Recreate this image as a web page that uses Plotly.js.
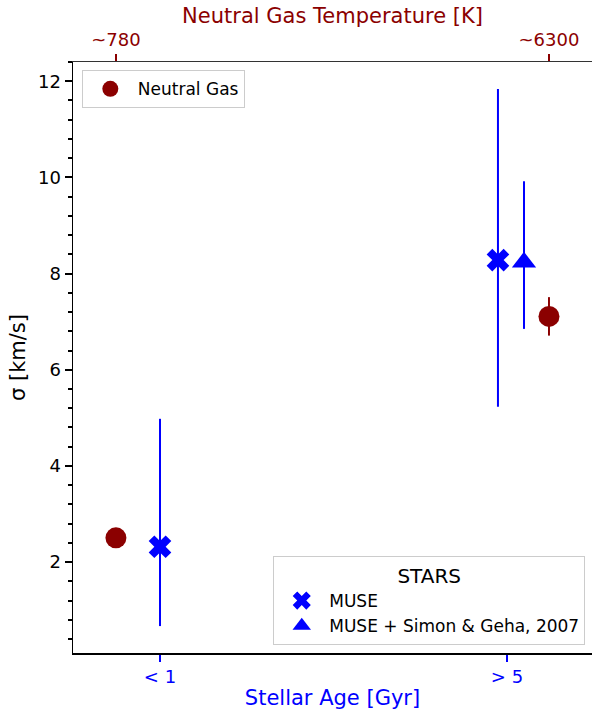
<!DOCTYPE html>
<html><head><meta charset="utf-8">
<script src="https://cdn.plot.ly/plotly-3.0.1.min.js"></script>
<style>body{margin:0;background:#fff}#chart{width:592px;height:714px}</style>
</head><body><div id="chart"></div>
<script>
// Bottom axis categories (numeric positions) and labels
const ageTickVals = [0, 1];
const ageTickText = ['< 1', '> 5'];
// Stars: MUSE
const museX = [0, 0.974];
const museY = [2.32, 8.28];
const museErrPlus = [2.66, 3.56];
const museErrMinus = [1.65, 3.05];
// Stars: MUSE + Simon & Geha, 2007
const simonX = [1.049];
const simonY = [8.235];
const simonErrPlus = [1.685];
const simonErrMinus = [1.385];
// Neutral gas
const gasX = [-0.127, 1.121];
const gasY = [2.505, 7.11];
const gasErr = [0, 0.4];
const tempTickText = ['~780', '~6300'];

const FONT = 'DejaVu Sans, sans-serif';
const BLUE = '#0000ff';
const RED = '#8b0000';

const traces = [
  {
    x: museX, y: museY, type: 'scatter', mode: 'markers', name: 'MUSE',
    legend: 'legend2',
    marker: {symbol: 'x', size: 20, color: BLUE, line: {width: 0}},
    error_y: {type: 'data', symmetric: false, array: museErrPlus, arrayminus: museErrMinus,
      color: BLUE, thickness: 2, width: 0}
  },
  {
    x: simonX, y: simonY, type: 'scatter', mode: 'markers', name: 'MUSE + Simon & Geha, 2007',
    legend: 'legend2',
    marker: {symbol: 'triangle-up', size: 21, color: BLUE, line: {width: 0}},
    error_y: {type: 'data', symmetric: false, array: simonErrPlus, arrayminus: simonErrMinus,
      color: BLUE, thickness: 2, width: 0}
  },
  {
    x: gasX, y: gasY, type: 'scatter', mode: 'markers', name: 'Neutral Gas',
    xaxis: 'x2', legend: 'legend',
    marker: {symbol: 'circle', size: 21, color: RED, line: {width: 0}},
    error_y: {type: 'data', array: gasErr, color: RED, thickness: 2, width: 0}
  }
];

const xr = [-0.2507, 1.245];
const layout = {
  width: 592, height: 714,
  margin: {l: 73, r: 0, t: 62, b: 61, pad: 0},
  paper_bgcolor: '#fff', plot_bgcolor: '#fff',
  font: {family: FONT, size: 18, color: '#000'},
  showlegend: true,
  xaxis: {
    range: xr, tickmode: 'array', tickvals: ageTickVals, ticktext: ageTickText,
    showgrid: false, zeroline: false, showline: true, linecolor: '#000', linewidth: 1.5,
    ticks: 'outside', ticklen: 7, tickwidth: 2.5, tickcolor: BLUE,
    tickfont: {family: FONT, size: 18, color: BLUE},
    title: {text: 'Stellar Age [Gyr]', font: {family: FONT, size: 21, color: BLUE}, standoff: 4},
    automargin: false
  },
  xaxis2: {
    range: xr, overlaying: 'x', side: 'top', anchor: 'y',
    tickmode: 'array', tickvals: gasX, ticktext: tempTickText,
    showgrid: false, zeroline: false, showline: true, linecolor: '#333', linewidth: 1.5,
    ticks: 'outside', ticklen: 7, tickwidth: 2.5, tickcolor: RED,
    tickfont: {family: FONT, size: 18, color: RED},
    title: {text: 'Neutral Gas Temperature [K]', font: {family: FONT, size: 21, color: RED}, standoff: 0},
    automargin: false
  },
  yaxis: {
    range: [0.11, 12.40], tickmode: 'linear', tick0: 0, dtick: 2,
    showgrid: false, zeroline: false, showline: true, linecolor: '#000', linewidth: 1.5,
    ticks: 'outside', ticklen: 7, tickwidth: 2, tickcolor: '#000',
    tickfont: {family: FONT, size: 18, color: '#000'},
    minor: {tick0: 0, dtick: 0.4, ticks: 'outside', ticklen: 4, tickwidth: 2, tickcolor: '#000', showgrid: false},
    title: {text: 'σ [km/s]', font: {family: FONT, size: 21, color: '#000'}, standoff: 6},
    automargin: false
  },
  legend: {
    x: 0.017, y: 0.986, xanchor: 'left', yanchor: 'top',
    bgcolor: 'rgba(255,255,255,0.8)', bordercolor: '#cccccc', borderwidth: 1,
    font: {family: FONT, size: 17, color: '#000'}, itemwidth: 45
  },
  legend2: {
    x: 0.987, y: 0.0135, xanchor: 'right', yanchor: 'bottom',
    bgcolor: 'rgba(255,255,255,0.8)', bordercolor: '#cccccc', borderwidth: 1,
    font: {family: FONT, size: 17, color: '#000'}, itemwidth: 45,
    title: {text: 'STARS', side: 'top center', font: {family: FONT, size: 20, color: '#000'}}
  }
};

Plotly.newPlot('chart', traces, layout, {displayModeBar: false, staticPlot: true});
</script>
</body></html>
